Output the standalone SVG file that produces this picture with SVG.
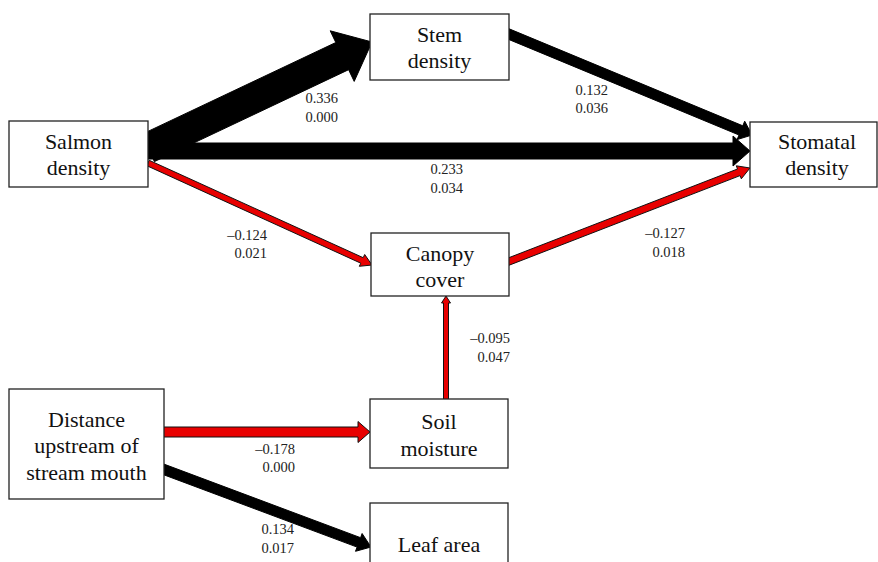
<svg xmlns="http://www.w3.org/2000/svg" width="878" height="562" viewBox="0 0 878 562">
<style>
.box{fill:#fff;stroke:#222;stroke-width:1.3}
.nt{font-family:"Liberation Serif","Times New Roman",serif;font-size:22px;fill:#111;text-anchor:middle}
.lb{font-family:"Liberation Serif","Times New Roman",serif;font-size:14.5px;fill:#222;text-anchor:end}
.blk{fill:#000;stroke:#000;stroke-width:1}
.red{fill:#e80000;stroke:#111;stroke-width:1;stroke-linejoin:miter}
</style>
<rect width="878" height="562" fill="#fff"/>
<g id="connectors">
  <polygon class="blk" points="154.4,161.6 348.6,69.7 354.2,81.4 372,42 330.2,30.8 335.8,42.5 141.6,134.4"/>
  <polygon class="blk" points="145,143 733,143 733,136 750,151 733,166 733,159 145,159"/>
  <polygon class="blk" points="503.1,37.1 739.0,135.0 737.1,139.6 752,135 744.7,121.2 742.8,125.8 506.9,27.9"/>
  <polygon class="red" points="146.8,165.7 360.8,263.2 359.3,266.3 372,265 364.7,254.5 363.2,257.7 149.2,160.3"/>
  <polygon class="red" points="506.3,266.3 740.1,175.6 741.3,178.8 750,168 736.3,165.8 737.5,169.0 503.7,259.7"/>
  <polygon class="red" points="443.5,400 443.5,303 441.5,303 446,296 450.5,303 448.5,303 448.5,400"/>
  <polygon class="red" points="160,427 358,427 358,421.5 370,432 358,442.5 358,437 160,437"/>
  <polygon class="blk" points="158.2,472.7 357.1,547.1 355.5,551.3 371,547 362.1,533.5 360.6,537.7 161.8,463.3"/>
</g>
<g id="labels">
  <text class="lb" x="338" y="103">0.336</text><text class="lb" x="338" y="122">0.000</text>
  <text class="lb" x="463" y="174">0.233</text><text class="lb" x="463" y="193">0.034</text>
  <text class="lb" x="608" y="95">0.132</text><text class="lb" x="608" y="113">0.036</text>
  <text class="lb" x="267" y="240">–0.124</text><text class="lb" x="267" y="258">0.021</text>
  <text class="lb" x="685" y="238">–0.127</text><text class="lb" x="685" y="257">0.018</text>
  <text class="lb" x="510" y="343">–0.095</text><text class="lb" x="510" y="362">0.047</text>
  <text class="lb" x="295" y="454">–0.178</text><text class="lb" x="295" y="472">0.000</text>
  <text class="lb" x="294" y="534">0.134</text><text class="lb" x="294" y="553">0.017</text>
</g>
<g id="salmon"><rect class="box" x="9" y="121" width="139" height="66"/><text class="nt" x="78.5" y="149">Salmon</text><text class="nt" x="78.5" y="175">density</text></g>
<g id="stem"><rect class="box" x="370" y="14" width="139" height="66"/><text class="nt" x="439.5" y="42">Stem</text><text class="nt" x="439.5" y="68">density</text></g>
<g id="stomatal"><rect class="box" x="750" y="122" width="127" height="65"/><text class="nt" x="817" y="149">Stomatal</text><text class="nt" x="817" y="175">density</text></g>
<g id="canopy"><rect class="box" x="371" y="233" width="138" height="63"/><text class="nt" x="440" y="260.5">Canopy</text><text class="nt" x="440" y="286.5">cover</text></g>
<g id="soil"><rect class="box" x="370" y="399" width="138" height="69"/><text class="nt" x="439" y="429">Soil</text><text class="nt" x="439" y="456">moisture</text></g>
<g id="leaf"><rect class="box" x="370" y="503" width="138" height="70"/><text class="nt" x="439" y="552">Leaf area</text></g>
<g id="distance"><rect class="box" x="9" y="389" width="155" height="110"/><text class="nt" x="86.5" y="427">Distance</text><text class="nt" x="86.5" y="453">upstream of</text><text class="nt" x="86.5" y="480">stream mouth</text></g>
</svg>
